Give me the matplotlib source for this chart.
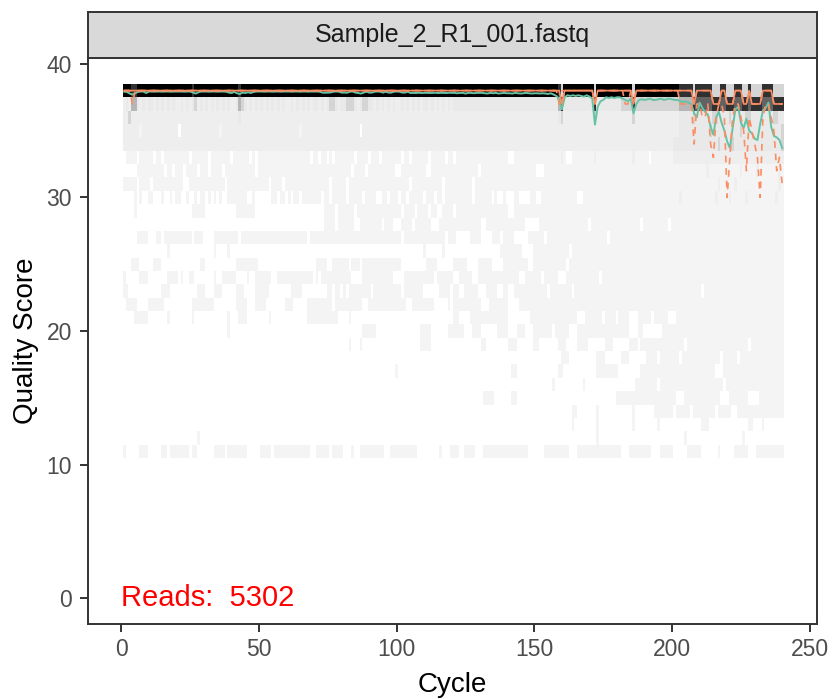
import numpy as np
import matplotlib
matplotlib.use("Agg")
import matplotlib.pyplot as plt
from matplotlib.colors import LinearSegmentedColormap, Normalize

SAMPLE = "Sample_2_R1_001.fastq"
N_READS = 5302
CYCLES = list(range(1, 241))
X_TICKS = [0, 50, 100, 150, 200, 250]
Y_TICKS = [0, 10, 20, 30, 40]

# shade code -> approximate read count of a (cycle, quality) tile
CODE_CHARS = [".", "1", "2", "3", "4", "5", "6", "7", "8", "9"]
CODE_COUNTS = [0, 5, 40, 150, 260, 650, 1300, 3000, 4000, 5000]

# one string per quality score, 240 cycles, groups of 10 cycles
Q38 = "9998899999 9999999999 9999989999 9999999999 9989999999 9999999999 9999999999 9999999999 9999999999 9999999999 9999999999 9999999999 9999999999 9999999999 9999999999 9999999985 9999999999 9599999999 9999959999 9999999999 9988888588 8888555885 5588855855 5588885555"
Q37 = "3436643434 4343434343 3434345343 4343434343 3465434343 4343434343 3434343434 4343455434 4555434554 4343434343 3434343434 4343434343 4444444444 4444444444 4444444444 4444444468 4444444444 4844444444 4555585555 5555555555 5566666877 7777888778 8877788788 8877778888"
Q36 = "3353333333 3333333333 3333333333 3333333333 3343333333 3333333333 3333333333 3333333333 3333333333 3333333333 3333333333 3333333333 3333333333 3333333333 3333333333 3333333345 3333333333 3533333333 3333353333 3333333333 3344444544 4444554444 5444445544 4444445544"
Q35 = "3333332333 3333333333 .333333333 3333323333 3333333333 3333333333 3333233333 3333333333 333333.333 3333333333 3333333333 3333333333 3333333333 3333333333 3333333333 3333333333 3333333333 3333333333 3333333333 3333333333 3344444444 4445444444 4444544444 4444444445"
Q34 = "3333333333 3333333333 3333333333 3333333333 3333333333 3333333333 3333333333 3333333333 3333333333 3333333333 3333333333 3333333333 3333333333 3333333333 3333333333 3333333333 3333333333 3333333333 3333333333 3333333333 4444444444 4444445444 4544444444 4444444445"
Q33 = ".2222.2222 2.22.22222 2222.22222 2.2222222. 222222.2.2 2222222222 22222222.2 2.22.2.222 2222.2222. 222.222222 2.22.22222 2.22222.22 .222222222 2222222222 ..22222222 2222222223 2..2222222 2322222222 2222232222 2.22222222 3333333333 3333333333 3333333333 3333333333"
Q32 = ".....22222 22222.22.2 22.2222.22 2.2222.222 22222222.2 2222222222 2222222222 2222222222 222.2222.2 222222222. .222222222 ..22222222 222222222. 2222222222 2222222222 ...2222222 2222222222 2222222222 2222222222 2222222222 2222222222 2232222222 2222322222 3222222232"
Q31 = "22222.2222 .222222222 22..222222 2222222.22 2222222222 222.2222.2 2222222222 22222.2222 2.22222222 2222222222 2222.22222 222222.222 2222222.22 2222222222 2222222222 2222222222 2222222222 2222222222 2222222222 2222222222 2222222222 2222223222 2232222222 2222222232"
Q30 = "....2.2..2 2...2..2.2 2..2..2.22 .2.2.2..22 22222..2.. ....22.22. 2.22.22222 22.22.2222 2.22222.22 22..22.222 .22.22222. 222.22.222 2222222.22 2222.2..2. ..22....22 ..22222222 22222..222 2222222222 2222222222 2222222222 2232222222 2222232222 3222223222 2222222322"
Q29 = "....2..... .......... .....22222 .......... .2222222.. .......... .......... ...2222.22 2222.22222 2222222222 2.2222.222 2.22..2222 .222222222 2222222222 ..22222222 2222222222 2222222222 2222222222 2222222222 2222222222 2222222222 2222222222 2222222222 2222222222"
Q28 = ".......... .......... .......... .......... .......... .......... .......... ...2222.22 2222..2222 2222.222.. .2222.2222 22...22222 2222222222 ..22222222 222222.... .222222222 222222222. 2222222222 22222222.2 22222222.2 2222222222 2222222222 2222222222 2222222222"
Q27 = ".....2222. ..22.22222 22222.222. ...2222222 22.2222222 2222222222 2222222.22 2222222222 2222222222 2222222222 2.22222222 2222222.22 2.....2222 ....222.22 22.....222 222.222222 2222222222 222222.222 2222222222 2222222222 2222222222 2222222222 2222222222 2222222222"
Q26 = ".......... ......2... .......... ...2....2. .......... .......... .......... .......... .......... .......... .........2 ......2... .......... .......222 22222....2 2222222222 22.2222222 2222222222 2222222222 2222222222 2222222222 2222222222 2222222222 2222222222"
Q25 = "...222.... .222...... ........22 .......... .22222222. .......... .......... 2222..2222 22.222.222 2222222222 2......... 2222...... 22222....2 2222....22 2222222..2 2222222222 2.22222222 2222222222 2222222222 2222222222 2222222222 2222222222 2222222222 2222222222"
Q24 = "2.....222. ......2222 .2..22.... ...2..2222 2....2..22 2222..2222 222222222. 2.22222222 222....222 22222222.. ..22222222 222.222222 ..22222..2 2222222222 2222..2222 22.22222.. .222222222 222.222222 2222222222 2222222222 2222222222 2222222222 2222222222 2222222222"
Q23 = "22........ ....222... .......222 ...222.... .222....22 222....... .2222..... ....22.22. 2.22222222 .222222222 2.2222222. .....2222. 22..22222. ..2222..22 ..22222222 2222.22222 222.222222 2222222222 2222222222 2222222222 2222222222 .222222222 2222222222 2222222222"
Q22 = ".2222....2 22222..... .....22222 222....... .2222...22 22.......2 22.....222 222222.222 2222222..2 2222222222 222..22222 222.....2. 2222222222 ...2222222 ....222222 2222222222 2222222222 2222222222 2222222222 2222222222 2222222222 2222222222 2222222222 2222222222"
Q21 = "....22222. ......2... .....2.... ........2. ..222..... ...2...... .......222 22222222.. ..2....... .......... .......... .......... 22....2222 2222222222 ........22 2222222222 22222...22 2222.2222. 2222...222 22.22222.. .222222222 2222222222 2222222222 2222222222"
Q20 = ".......... .......... .......... ........2. .......... .......... .......... .......... .......222 22........ ........22 22......22 2222...222 ......2222 ...222...2 222222.222 22...22222 2222222222 2222...22. ......2222 2222222222 2222222222 2222222222 2222222222"
Q19 = ".......... .......... .......... .......... .......... .......... .......... .......... ..2...2... .......... ........22 22........ .......... 22........ 222......2 2.......22 2....2222. .....222.. ....222.22 2222222222 2222.22222 2222222222 2222222.22 2222222222"
Q18 = ".......... .......... .......... .......... .......... .......... .......... .......... .......... .......... .......... .......... .......... .......... .......... .........2 22........ ..222..... .222...... 2222.22222 22.2222222 2222222.22 222.222222 2222222222"
Q17 = ".......... .......... .......... .......... .......... .......... .......... .......... .......... .........1 .......... .......... .......... .......... .22....... ........22 .......... ..22222222 ........22 2222222222 2222222222 22222...22 2222222222 2222222222"
Q16 = ".......... .......... .......... .......... .......... .......... .......... .......... .......... .......... .......... .......... .......... .......... .......... ......2... .......2.. .......... ......2222 2222.22222 2222222222 22222222.2 2222222222 2222222222"
Q15 = ".......... .......... .......... .......... .......... .......... .......... .......... .......... .......... .......... .......... .......... .2222..... .22....... .......... .......... .........2 2222222222 2222222222 2...222222 2222222... 2222222... .222222222"
Q14 = ".......... .......... .......... .......... .......... .......... .......... .......... .......... .......... .......... .......... .......... .......... .......... .......... ...22..... ..2....... .....2.... ...2222222 .22222.222 22222.2222 2..2222222 2222222222"
Q13 = ".......... .......... .......... .......... .......... .......... .......... .......... .......... .......... .......... .......... .......... .......... .......... .......... ...2...... ..2....... .....2.... ....2..... .......... 222....... .......22. ..2......."
Q12 = ".......... .......... .......2.. .......... .......... .......... .......... .......... .......... .......... .......... .......... .......... .......... .......... .......... .......... ..2....... .......... .......... ....2..... .......... .....2.... .........."
Q11 = "2.....222. ....22.222 2222.22... ...2222.22 22222..... 2222.22222 22222222.. 22222.2222 ...2..2222 22222..222 2222222... .....2...2 22..2222.. .222222222 2222222... ...2222222 22...22222 2222222222 2...222222 22...22222 .....22222 ......2... ..22222... 2222222222"

QUALITY_ROWS = [38, 37, 36, 35, 34, 33, 32, 31, 30, 29, 28, 27, 26, 25,
                24, 23, 22, 21, 20, 19, 18, 17, 16, 15, 14, 13, 12, 11]
ROW_STRINGS = [Q38, Q37, Q36, Q35, Q34, Q33, Q32, Q31, Q30, Q29, Q28, Q27, Q26, Q25,
               Q24, Q23, Q22, Q21, Q20, Q19, Q18, Q17, Q16, Q15, Q14, Q13, Q12, Q11]

MEAN = [
    37.92, 37.90, 37.78, 37.70, 37.80, 37.90, 37.93, 37.93, 37.82, 37.93,
    37.93, 37.92, 37.93, 37.93, 37.92, 37.93, 37.93, 37.92, 37.93, 37.93,
    37.93, 37.93, 37.92, 37.93, 37.93, 37.85, 37.78, 37.88, 37.93, 37.93,
    37.93, 37.92, 37.93, 37.93, 37.92, 37.93, 37.93, 37.92, 37.85, 37.82,
    37.90, 37.80, 37.75, 37.85, 37.82, 37.88, 37.82, 37.90, 37.93, 37.93,
    37.93, 37.92, 37.93, 37.93, 37.92, 37.93, 37.93, 37.92, 37.93, 37.93,
    37.93, 37.92, 37.93, 37.93, 37.92, 37.93, 37.93, 37.92, 37.93, 37.93,
    37.93, 37.92, 37.85, 37.84, 37.85, 37.86, 37.92, 37.93, 37.92, 37.85,
    37.85, 37.84, 37.92, 37.93, 37.85, 37.82, 37.78, 37.85, 37.92, 37.85,
    37.85, 37.92, 37.93, 37.92, 37.85, 37.92, 37.85, 37.85, 37.92, 37.93,
    37.92, 37.85, 37.85, 37.92, 37.82, 37.83, 37.82, 37.84, 37.82, 37.83,
    37.83, 37.82, 37.83, 37.84, 37.82, 37.83, 37.83, 37.82, 37.84, 37.83,
    37.83, 37.80, 37.83, 37.83, 37.78, 37.83, 37.83, 37.80, 37.83, 37.83,
    37.83, 37.80, 37.78, 37.83, 37.80, 37.83, 37.78, 37.80, 37.83, 37.80,
    37.80, 37.78, 37.83, 37.80, 37.78, 37.80, 37.83, 37.80, 37.78, 37.80,
    37.80, 37.78, 37.80, 37.78, 37.75, 37.80, 37.70, 37.60, 37.30, 36.60,
    37.50, 37.65, 37.60, 37.65, 37.60, 37.65, 37.60, 37.55, 37.65, 37.55,
    37.40, 35.45, 36.80, 37.20, 37.30, 37.50, 37.45, 37.50, 37.45, 37.50,
    37.50, 37.40, 37.30, 37.20, 37.40, 36.30, 37.00, 37.30, 37.35, 37.30,
    37.35, 37.40, 37.30, 37.30, 37.35, 37.40, 37.30, 37.35, 37.40, 37.35,
    37.30, 37.30, 37.20, 37.15, 37.20, 37.10, 37.00, 36.30, 36.00, 37.10,
    36.70, 36.40, 36.20, 35.30, 34.70, 36.00, 36.40, 35.60, 35.00, 34.20,
    33.70, 35.20, 36.60, 36.80, 35.60, 35.20, 35.90, 35.00, 34.80, 34.40,
    34.30, 35.50, 36.50, 36.70, 37.10, 35.30, 34.60, 34.50, 34.30, 33.70,
]

Q25_LINE = [
    38, 38, 38, 37, 38, 38, 38, 38, 38, 38,
    38, 38, 38, 38, 38, 38, 38, 38, 38, 38,
    38, 38, 38, 38, 38, 38, 38, 38, 38, 38,
    38, 38, 38, 38, 38, 38, 38, 38, 38, 38,
    38, 38, 38, 38, 38, 38, 38, 38, 38, 38,
    38, 38, 38, 38, 38, 38, 38, 38, 38, 38,
    38, 38, 38, 38, 38, 38, 38, 38, 38, 38,
    38, 38, 38, 38, 38, 38, 38, 38, 38, 38,
    38, 38, 38, 38, 38, 38, 38, 38, 38, 38,
    38, 38, 38, 38, 38, 38, 38, 38, 38, 38,
    38, 38, 38, 38, 38, 38, 38, 38, 38, 38,
    38, 38, 38, 38, 38, 38, 38, 38, 38, 38,
    38, 38, 38, 38, 38, 38, 38, 38, 38, 38,
    38, 38, 38, 38, 38, 38, 38, 38, 38, 38,
    38, 38, 38, 38, 38, 38, 38, 38, 38, 38,
    38, 38, 38, 38, 38, 38, 38, 38, 37, 37,
    38, 38, 38, 38, 38, 38, 38, 38, 38, 38,
    38, 37, 38, 38, 38, 38, 38, 38, 38, 38,
    38, 38, 37, 37, 38, 37, 38, 38, 38, 38,
    38, 38, 38, 38, 38, 38, 38, 38, 38, 38,
    38, 38, 37, 37, 37, 37, 37, 34, 37, 37,
    36, 36, 37, 34, 33, 36, 37, 37, 36, 30,
    33, 36, 37, 37, 36, 35, 32, 36, 35, 34,
    33, 30, 36, 37, 37, 36, 35, 32, 33, 31,
]

Q50_LINE = [
    38, 38, 38, 38, 38, 38, 38, 38, 38, 38,
    38, 38, 38, 38, 38, 38, 38, 38, 38, 38,
    38, 38, 38, 38, 38, 38, 38, 38, 38, 38,
    38, 38, 38, 38, 38, 38, 38, 38, 38, 38,
    38, 38, 38, 38, 38, 38, 38, 38, 38, 38,
    38, 38, 38, 38, 38, 38, 38, 38, 38, 38,
    38, 38, 38, 38, 38, 38, 38, 38, 38, 38,
    38, 38, 38, 38, 38, 38, 38, 38, 38, 38,
    38, 38, 38, 38, 38, 38, 38, 38, 38, 38,
    38, 38, 38, 38, 38, 38, 38, 38, 38, 38,
    38, 38, 38, 38, 38, 38, 38, 38, 38, 38,
    38, 38, 38, 38, 38, 38, 38, 38, 38, 38,
    38, 38, 38, 38, 38, 38, 38, 38, 38, 38,
    38, 38, 38, 38, 38, 38, 38, 38, 38, 38,
    38, 38, 38, 38, 38, 38, 38, 38, 38, 38,
    38, 38, 38, 38, 38, 38, 38, 38, 38, 37,
    38, 38, 38, 38, 38, 38, 38, 38, 38, 38,
    38, 37, 38, 38, 38, 38, 38, 38, 38, 38,
    38, 38, 38, 38, 38, 37, 38, 38, 38, 38,
    38, 38, 38, 38, 38, 38, 38, 38, 38, 38,
    38, 38, 38, 38, 38, 38, 38, 37, 38, 38,
    38, 38, 38, 38, 37, 37, 37, 38, 38, 37,
    37, 37, 38, 38, 38, 37, 37, 38, 37, 37,
    37, 37, 38, 38, 38, 38, 37, 37, 37, 37,
]

Q75_LINE = [
    38, 38, 38, 38, 38, 38, 38, 38, 38, 38,
    38, 38, 38, 38, 38, 38, 38, 38, 38, 38,
    38, 38, 38, 38, 38, 38, 38, 38, 38, 38,
    38, 38, 38, 38, 38, 38, 38, 38, 38, 38,
    38, 38, 38, 38, 38, 38, 38, 38, 38, 38,
    38, 38, 38, 38, 38, 38, 38, 38, 38, 38,
    38, 38, 38, 38, 38, 38, 38, 38, 38, 38,
    38, 38, 38, 38, 38, 38, 38, 38, 38, 38,
    38, 38, 38, 38, 38, 38, 38, 38, 38, 38,
    38, 38, 38, 38, 38, 38, 38, 38, 38, 38,
    38, 38, 38, 38, 38, 38, 38, 38, 38, 38,
    38, 38, 38, 38, 38, 38, 38, 38, 38, 38,
    38, 38, 38, 38, 38, 38, 38, 38, 38, 38,
    38, 38, 38, 38, 38, 38, 38, 38, 38, 38,
    38, 38, 38, 38, 38, 38, 38, 38, 38, 38,
    38, 38, 38, 38, 38, 38, 38, 38, 38, 38,
    38, 38, 38, 38, 38, 38, 38, 38, 38, 38,
    38, 38, 38, 38, 38, 38, 38, 38, 38, 38,
    38, 38, 38, 38, 38, 38, 38, 38, 38, 38,
    38, 38, 38, 38, 38, 38, 38, 38, 38, 38,
    38, 38, 38, 38, 38, 38, 38, 37, 38, 38,
    38, 38, 38, 38, 37, 37, 37, 38, 38, 37,
    37, 37, 38, 38, 38, 37, 37, 38, 37, 37,
    37, 37, 38, 38, 38, 38, 37, 37, 37, 37,
]

# ---------------------------------------------------------------------------
plt.rcParams['font.family'] = ['Liberation Sans', 'DejaVu Sans']

n_cyc = len(CYCLES)
code_to_count = dict(zip(CODE_CHARS, CODE_COUNTS))
q_min, q_max = min(QUALITY_ROWS), max(QUALITY_ROWS)
grid = np.zeros((q_max - q_min + 1, n_cyc))
for q, s in zip(QUALITY_ROWS, ROW_STRINGS):
    s = (s.replace(" ", "") + "." * n_cyc)[:n_cyc]
    grid[q - q_min, :] = [code_to_count.get(ch, 0) for ch in s]
masked = np.ma.masked_where(grid <= 0, grid)

W, H = 832, 699
fig = plt.figure(figsize=(W / 100, H / 100), dpi=100)
ax_l, ax_r, ax_b, ax_t = 88.3, 816.7, 624.0, 58.2
ax = fig.add_axes([ax_l / W, 1 - ax_b / H, (ax_r - ax_l) / W, (ax_b - ax_t) / H])
strip_top = 12.0
sax = fig.add_axes([ax_l / W, 1 - ax_t / H, (ax_r - ax_l) / W, (ax_t - strip_top) / H])

cmap = LinearSegmentedColormap.from_list("qual", ["#F5F5F5", "#000000"])
pos = grid[grid > 0]
norm = Normalize(vmin=pos.min(), vmax=pos.max())
x_edges = np.arange(CYCLES[0] - 0.5, CYCLES[-1] + 1.0, 1.0)
y_edges = np.arange(q_min - 0.5, q_max + 1.0, 1.0)
ax.pcolormesh(x_edges, y_edges, masked, cmap=cmap, norm=norm,
              edgecolors="none", antialiased=False, zorder=1)

ax.plot(CYCLES, MEAN, color="#66C2A5", lw=1.4, zorder=3, solid_joinstyle="round")
ax.plot(CYCLES, Q25_LINE, color="#FC8D62", lw=1.2, ls=(0, (4, 3.5)), zorder=4)
ax.plot(CYCLES, Q50_LINE, color="#FC8D62", lw=1.2, zorder=4)
ax.plot(CYCLES, Q75_LINE, color="#FC8D62", lw=1.2, ls=(0, (4, 3.5)), zorder=4)

ax.text(0, 0, "Reads:  %d" % N_READS, color="#FF0000", fontsize=21,
        ha="left", va="center", zorder=5)

ax.set_xlim(-12.03, 252.53)
ax.set_ylim(-1.925, 40.425)
ax.set_xticks(X_TICKS)
ax.set_yticks(Y_TICKS)
ax.set_xticklabels([str(t) for t in X_TICKS])
ax.set_yticklabels([str(t) for t in Y_TICKS])
ax.tick_params(axis="both", length=5.8, width=1.4, color="#333333",
               labelcolor="#4D4D4D", labelsize=16.5)
ax.tick_params(axis="y", pad=6.0)
ax.tick_params(axis="x", pad=4.5)
for sp in ax.spines.values():
    sp.set_color("#333333")
    sp.set_linewidth(1.4)
ax.set_facecolor("white")
ax.set_xlabel("Cycle", fontsize=20, color="black", labelpad=8)
ax.set_ylabel("Quality Score", fontsize=20, color="black", labelpad=5)

sax.set_facecolor("#D9D9D9")
sax.set_xticks([])
sax.set_yticks([])
for sp in sax.spines.values():
    sp.set_color("#333333")
    sp.set_linewidth(1.4)
sax.text(0.5, 0.5, SAMPLE, transform=sax.transAxes, ha="center", va="center",
         fontsize=18, color="#1A1A1A")

fig.savefig("out.png", dpi=100)
